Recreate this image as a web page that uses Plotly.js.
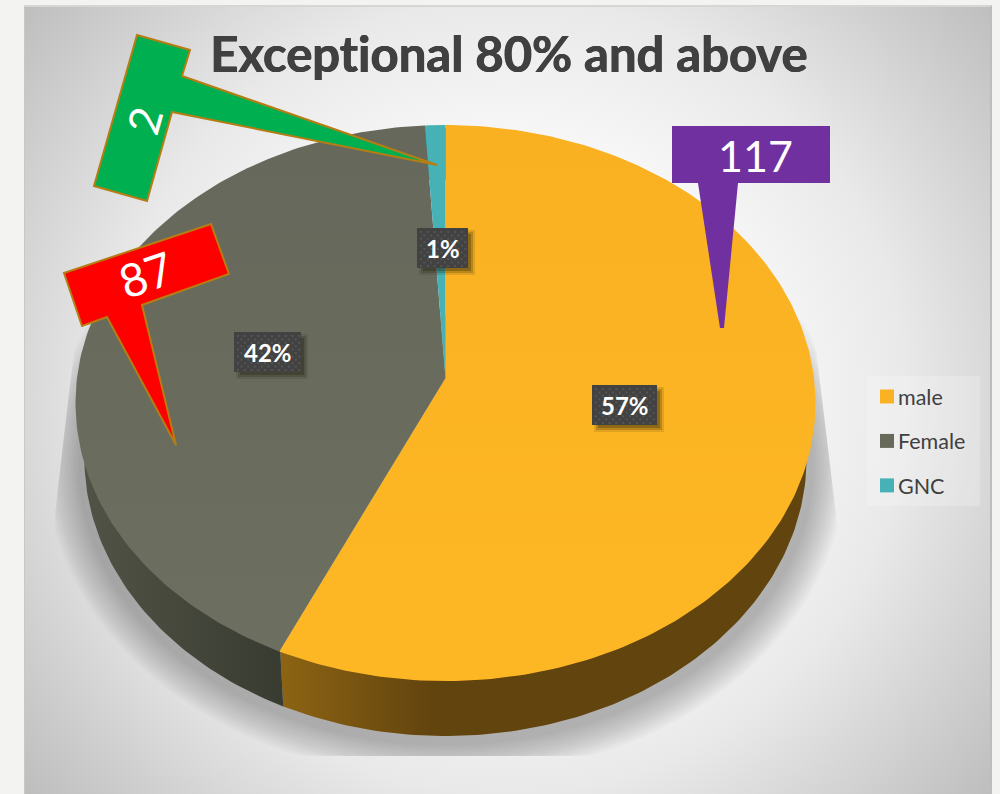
<!DOCTYPE html>
<html>
<head>
<meta charset="utf-8">
<script src="https://cdn.plot.ly/plotly-3.0.1.min.js"></script>
<style>
html,body{margin:0;padding:0;width:1000px;height:794px;overflow:hidden;background:#f3f3f1;}
#panel{position:absolute;left:24px;top:5px;width:968px;height:789px;box-sizing:border-box;
 border-top:2px solid #d6d6d6;border-left:1px solid #c8c8c8;border-right:2px solid #bdbdbd;
 background:radial-gradient(circle 640px at 484px 390px,#ffffff 0%,#f6f6f6 42%,#e9e9e9 62%,#cdcdcd 85%,#bbbbbb 100%);}
#chart{position:absolute;left:0;top:0;width:1000px;height:794px;}
#chart text{font-variant-ligatures:none !important;font-feature-settings:"liga" 0,"clig" 0 !important;}
</style>
</head>
<body>
<div id="panel"></div>
<div id="chart"></div>
<script>
// ---- data ----
const categories = ["male", "Female", "GNC"];
const counts = [117, 87, 2];
const chartTitle = "Exceptional 80% and above";

// ---- styles ----
const topColors = [["#f9b122", "#feb724"], ["#65685a", "#6d7060"], ["#46b2b6", "#46b2b6"]];
const swatches = ["#fab224", "#676a5b", "#46b2b6"];
const sideFills = [
  {type: "horizontal", start: 284, stop: 810, colorscale: [[0, "#8c6313"], [0.28, "#62440e"], [1, "#62440e"]]},
  {type: "horizontal", start: 85, stop: 284, colorscale: [[0, "#505346"], [1, "#383b2f"]]},
  {type: "horizontal", start: 420, stop: 450, colorscale: [[0, "#2b6f72"], [1, "#2b6f72"]]}
];
const total = counts.reduce((a, b) => a + b, 0);

// ---- tilted-disc projection (a circle seen in perspective) ----
const CX = 445.5, CY = 403, RY = 278, RX = 368.5, APEX = -25, PERSP = -0.09, DEPTH = 55, LOWER_SCALE = 0.976;
function project(deg, dy, sx) {
  const t = deg * Math.PI / 180, u = Math.sin(t), v = -Math.cos(t), w = 1 + PERSP * v;
  return [CX + sx * RX * u / w, CY + (RY * v + APEX) / w + dy];
}
const traces = [];
const spans = [];
let acc = 0;
counts.forEach(c => { spans.push([acc, acc + c / total * 360]); acc += c / total * 360; });

function rim(a, b, dy, sx) {
  const pts = [], n = Math.max(2, Math.ceil(b - a));
  for (let i = 0; i <= n; i++) {
    const deg = a + (b - a) * i / n;
    // dy === null: arc pulled slightly inside the top face so no fringe or gap shows
    pts.push(project(deg, dy === null ? 3 * Math.cos(deg * Math.PI / 180) : dy, sx));
  }
  return pts;
}
// side walls first
spans.forEach((s, i) => {
  const pts = rim(s[0], s[1], null, 0.995).concat(rim(s[0], s[1], DEPTH, LOWER_SCALE).reverse());
  pts.push(pts[0]);
  traces.push({type: "scatter", mode: "lines", x: pts.map(p => p[0]), y: pts.map(p => p[1]),
    fill: "toself", fillgradient: sideFills[i], line: {width: 0}, showlegend: false, hoverinfo: "skip"});
});
// top faces
spans.forEach((s, i) => {
  const apex = [CX, CY + APEX];
  const pts = [apex].concat(rim(s[0], s[1], 0, 1)); pts.push(apex);
  traces.push({type: "scatter", mode: "lines", x: pts.map(p => p[0]), y: pts.map(p => p[1]),
    name: categories[i], fill: "toself",
    fillgradient: {type: "vertical", start: 125, stop: 680, colorscale: [[0, topColors[i][0]], [1, topColors[i][1]]]},
    line: {width: 0}, showlegend: false, hoverinfo: "skip"});
});
// legend entries
categories.forEach((c, i) => traces.push({type: "scatter", mode: "markers", x: [null], y: [null], name: c,
  legendgroup: c, marker: {symbol: "square", size: 14, color: swatches[i]}}));

// ---- soft shadow below the disc ----
const shapes = [];
const SH = 14;
for (let k = 0; k < SH; k++) {
  const e = 36 - 32 * k / (SH - 1);
  let d = "";
  for (let a = 0; a < 360; a += 3) {
    const t = a * Math.PI / 180;
    let y = 464 + (278 + e) * Math.sin(t);
    y = Math.min(756, Math.max(315, y));
    const f = Math.min(1, Math.max(0, (y - 315) / 215));
    const xl = 78 - 25 * f, xr = 812 + 26 * f;
    let x = 446 + (364 + e) * Math.cos(t);
    x = Math.min(xr, Math.max(xl, x));
    d += (a ? "L" : "M") + x.toFixed(1) + "," + y.toFixed(1);
  }
  shapes.push({type: "path", path: d + "Z", xref: "x", yref: "y", layer: "below",
    fillcolor: "rgba(0,0,0,0.02)", line: {width: 0}});
}

// ---- percentage tags ----
const tagBoxes = [[592, 385, 657, 425], [234, 332, 301, 372], [417, 228, 468, 268]];
const annotations = [];
categories.forEach((c, i) => {
  const b = tagBoxes[i];
  [[6, 0.12], [4, 0.2], [2, 0.28]].forEach(o => shapes.push({type: "rect", xref: "x", yref: "y", layer: "above",
    x0: b[0] + 8 - o[0], y0: b[1] + 8 - o[0], x1: b[2] + 1 + o[0], y1: b[3] + 1 + o[0],
    fillcolor: "rgba(30,28,10," + o[1] + ")", line: {width: 0}}));
  shapes.push({type: "rect", xref: "x", yref: "y", layer: "above", x0: b[0], y0: b[1], x1: b[2], y1: b[3],
    fillcolor: "#424242", line: {width: 0}});
  let d = "";
  for (let r = 0, y = b[1] + 3; y < b[3] - 1; y += 3.4, r++)
    for (let x = b[0] + 3 + (r % 2) * 3.4; x < b[2] - 1; x += 6.8)
      d += "M" + x + "," + y + "L" + (x + 2) + "," + y + "L" + (x + 2) + "," + (y + 2) + "L" + x + "," + (y + 2) + "Z";
  shapes.push({type: "path", path: d, xref: "x", yref: "y", layer: "above", fillcolor: "#555555", line: {width: 0}});
  annotations.push({x: (b[0] + b[2]) / 2, y: (b[1] + b[3]) / 2, xref: "x", yref: "y", showarrow: false,
    text: Math.round(counts[i] / total * 100) + "%", font: {family: "Lato", size: 24, color: "#ffffff", weight: 700}});
});

// ---- count callouts ----
const calloutColors = ["#7030a0", "#ff0000", "#00b050"];
const calloutOutline = [null, "#b57d14", "#b57d14"];
const calloutPaths = [
  "M672,126L830,126L830,183L738,183L724,328L720,328L698,183L672,183Z",
  "M64,273L211,224L229,274L142,305L176,445L107,317L82,326Z",
  "M137,35L190,50L182,76L437,165L172,112L147,201L94,186Z"
];
const calloutText = [[755, 155, 0, 43], [145, 274, -19, 46], [144, 120, -74, 44]];
categories.forEach((c, i) => {
  shapes.push({type: "path", path: calloutPaths[i], xref: "x", yref: "y", layer: "above", fillcolor: calloutColors[i],
    line: calloutOutline[i] ? {color: calloutOutline[i], width: 2} : {width: 0}});
  const t = calloutText[i];
  annotations.push({x: t[0], y: t[1], xref: "x", yref: "y", showarrow: false, textangle: t[2], text: String(counts[i]),
    font: {family: "Lato", size: t[3], color: "#ffffff", weight: 400}});
});

const layout = {
  width: 1000, height: 794,
  margin: {l: 0, r: 0, t: 0, b: 0},
  paper_bgcolor: "rgba(0,0,0,0)", plot_bgcolor: "rgba(0,0,0,0)",
  title: {text: chartTitle, x: 0.509, xanchor: "center", y: 0.9315, yanchor: "middle",
    font: {family: "Lato", size: 49, color: "#404040", weight: 700,
      shadow: "0.5px 0 0 #404040, -0.5px 0 0 #404040"}},
  xaxis: {range: [0, 1000], visible: false, fixedrange: true},
  yaxis: {range: [794, 0], visible: false, fixedrange: true},
  showlegend: true,
  legend: {x: 0.867, xanchor: "left", y: 1 - 376 / 794, yanchor: "top", bgcolor: "rgba(255,255,255,0.22)",
    borderwidth: 0, tracegroupgap: 13.5, font: {family: "Lato", size: 21.5, color: "#404040"}},
  shapes: shapes,
  annotations: annotations
};
Plotly.newPlot("chart", traces, layout, {displayModeBar: false, staticPlot: true}).then(() => {
  // tighten the gap between legend swatch and label
  document.querySelectorAll("#chart .legendtext").forEach(t => t.setAttribute("x", parseFloat(t.getAttribute("x")) - 9));
});
</script>
</body>
</html>
